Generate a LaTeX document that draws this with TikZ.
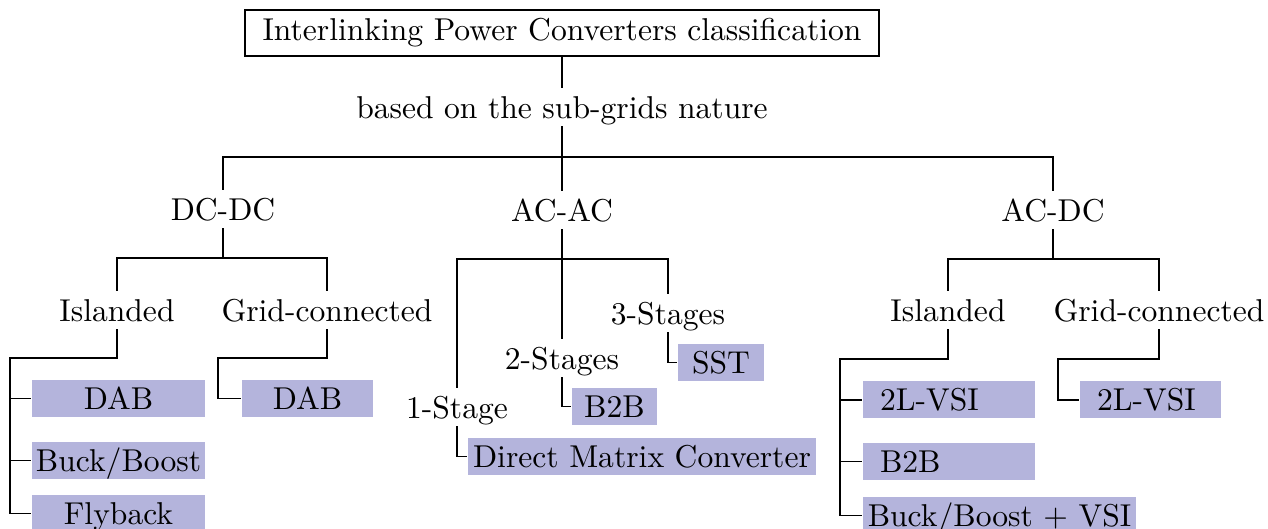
\documentclass[tikz,border=0pt]{standalone}
\newcommand{\pxu}{0.3165pt}
\definecolor{boxfill}{RGB}{180,180,220}
\tikzset{
  lbl/.style={inner xsep=1pt, inner ysep=0pt, text height=9.6pt, text depth=2.1pt},
  titlebox/.style={draw, inner sep=0pt, minimum width=634*\pxu, minimum height=46*\pxu},
  cbox/.style={fill=boxfill, inner sep=0pt, minimum height=37*\pxu, text height=6.83pt, text depth=0pt},
  lbox/.style={fill=boxfill, inner ysep=0pt, inner xsep=17*\pxu, align=left, minimum height=37*\pxu, text height=6.83pt, text depth=0pt},
  conn/.style={draw=black, line width=0.6pt}
}
\begin{document}
\begin{tikzpicture}[x=\pxu, y=-\pxu]
\useasboundingbox (0,0) rectangle (1268,529);

% nodes
\node[titlebox] (title) at (562,33) {Interlinking Power Converters classification};
\node[lbl] (based) at (562,107) {based on the sub-grids nature};
\node[lbl] (dcdc) at (223,209) {DC-DC};
\node[lbl] (acac) at (562,210) {AC-AC};
\node[lbl] (acdc) at (1053,210) {AC-DC};
\node[lbl] (isl1) at (117,310) {Islanded};
\node[lbl] (grid1) at (327,310) {Grid-connected};
\node[lbl] (isl2) at (948,310) {Islanded};
\node[lbl] (grid2) at (1159,310) {Grid-connected};
\node[lbl] (st3) at (668,313) {3-Stages};
\node[lbl] (st2) at (562,358) {2-Stages};
\node[lbl] (st1) at (457,407) {1-Stage};

\node[cbox, minimum width=173*\pxu] (dab1) at (118.5,398.5) {DAB};
\node[cbox, minimum width=173*\pxu] (bb1) at (118.5,460.5) {Buck/Boost};
\node[cbox, minimum width=173*\pxu] (fb1) at (118.5,513.5) {Flyback};
\node[cbox, minimum width=131*\pxu] (dab2) at (307.5,398.5) {DAB};
\node[cbox, minimum width=86*\pxu] (sst) at (721,362.5) {SST};
\node[cbox, minimum width=85*\pxu] (b2b1) at (614.5,406.5) {B2B};
\node[cbox, minimum width=348*\pxu] (dmc) at (642,456.5) {Direct Matrix Converter};
\node[lbox, text width=138*\pxu] (vsi1) at (949,400) {2L-VSI};
\node[lbox, text width=138*\pxu] (b2b2) at (949,461.5) {B2B};
\node[cbox, minimum width=273*\pxu] (bbv) at (999.5,515.5) {Buck/Boost + VSI};
\node[lbox, text width=107*\pxu] (vsi2) at (1150.5,400) {2L-VSI};

% junction points
\coordinate (busA) at (562,157);
\coordinate (busB) at (223,258);
\coordinate (busC) at (562,259);
\coordinate (busD) at (1053,259);
\coordinate (j1) at (10,358);
\coordinate (j2) at (218,358);
\coordinate (j3) at (840,359);
\coordinate (j4) at (1058,359);

% connectors
\draw[conn] (title.south) -- (based.north);
\draw[conn] (based.south) -- (busA);
\draw[conn] (dcdc.north) |- (busA) -| (acdc.north);
\draw[conn] (busA) -- (acac.north);

\draw[conn] (dcdc.south) -- (busB);
\draw[conn] (isl1.north) |- (busB) -| (grid1.north);
\draw[conn] (acac.south) -- (busC);
\draw[conn] (st1.north) |- (busC) -| (st3.north);
\draw[conn] (busC) -- (st2.north);
\draw[conn] (acdc.south) -- (busD);
\draw[conn] (isl2.north) |- (busD) -| (grid2.north);

\draw[conn] (isl1.south) |- (j1) |- (fb1.west);
\draw[conn] (j1 |- dab1.west) -- (dab1.west);
\draw[conn] (j1 |- bb1.west) -- (bb1.west);
\draw[conn] (grid1.south) |- (j2) |- (dab2.west);

\draw[conn] (st3.south) |- (sst.west);
\draw[conn] (st2.south) |- (b2b1.west);
\draw[conn] (st1.south) |- (dmc.west);

\draw[conn] (isl2.south) |- (j3) |- (bbv.west);
\draw[conn] (j3 |- vsi1.west) -- (vsi1.west);
\draw[conn] (j3 |- b2b2.west) -- (b2b2.west);
\draw[conn] (grid2.south) |- (j4) |- (vsi2.west);
\end{tikzpicture}
\end{document}
